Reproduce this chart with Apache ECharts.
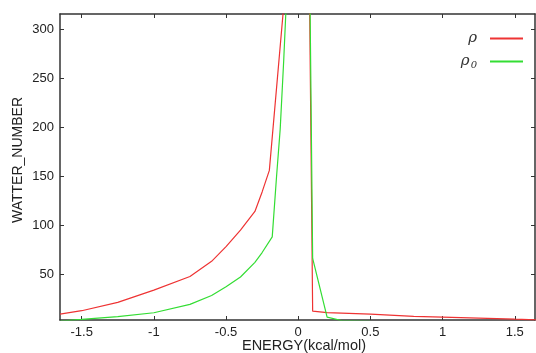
<!DOCTYPE html>
<html>
<head>
<meta charset="utf-8">
<script src="https://cdn.jsdelivr.net/npm/echarts@6/dist/echarts.min.js"></script>
<style>
html,body{margin:0;padding:0;background:#fff;}
#chart{width:536px;height:353px;}
</style>
</head>
<body>
<div id="chart"></div>
<script>
// ρ (red)
const energyRho = [-1.65, -1.5, -1.25, -1.0, -0.75, -0.6, -0.5, -0.4, -0.3, -0.25, -0.2, -0.1, -0.08, 0, 0.1, 0.2, 0.5, 0.8, 1.0, 1.25, 1.5, 1.65];
const rho       = [9, 12.5, 21, 33.5, 47.5, 63, 78, 95, 114, 134, 156, 325, 360, 1500, 12, 10.5, 9, 6.7, 6, 5, 3.8, 3.2];
// ρ0 (green)
const energyRho0 = [-1.65, -1.5, -1.25, -1.0, -0.75, -0.6, -0.5, -0.4, -0.3, -0.25, -0.18, -0.15, -0.125, -0.1, -0.085, 0, 0.1, 0.2, 0.3, 0.5, 1.0, 1.65];
const rho0       = [2, 3.6, 6.5, 10.4, 19, 28, 37, 47, 62, 72, 88, 150, 198, 270, 320, 1500, 66, 6, 2.5, 1.5, 1, 0.5];
const xTicks = [-1.5, -1, -0.5, 0, 0.5, 1, 1.5];
const yTicks = [50, 100, 150, 200, 250, 300];
const seriesNames = ['rho', 'rho0'];

const pair = (xs, ys) => xs.map((x, i) => [x, ys[i]]);
const chart = echarts.init(document.getElementById('chart'), null, {renderer: 'canvas'});
const axisCol = '#333';
const baseX = {
  type: 'value', min: -1.65, max: 1.64,
  axisLine: {show: true, onZero: false, lineStyle: {color: axisCol, width: 1.5}},
  axisTick: {show: true, inside: true, length: 4, customValues: xTicks, lineStyle: {color: axisCol}},
  splitLine: {show: false}
};
const baseY = {
  type: 'value', min: 3, max: 316,
  axisLine: {show: true, onZero: false, lineStyle: {color: axisCol, width: 1.5}},
  axisTick: {show: true, inside: true, length: 4, customValues: yTicks, lineStyle: {color: axisCol}},
  splitLine: {show: false}
};
chart.setOption({
  animation: false,
  backgroundColor: '#fff',
  grid: {left: 60, right: 1, top: 14, bottom: 33, containLabel: false, outerBoundsMode: 'none'},
  legend: {
    orient: 'vertical', right: 7, top: 26, itemWidth: 33, itemHeight: 14, itemGap: 8,
    align: 'right',
    data: seriesNames,
    itemStyle: {opacity: 0},
    formatter: function (n) { return n === 'rho' ? '{r|ρ}' : '{r|ρ}{s|0}'; },
    textStyle: {
      padding: [0, 8, 0, 0],
      rich: {
        r: {fontFamily: 'DejaVu Serif', fontStyle: 'italic', fontSize: 15, color: '#333'},
        s: {fontFamily: 'DejaVu Serif', fontStyle: 'italic', fontSize: 10, color: '#333', padding: [8, 0, 0, 1]}
      }
    }
  },
  xAxis: [
    Object.assign({}, baseX, {
      position: 'bottom',
      name: 'ENERGY(kcal/mol)', nameLocation: 'middle', nameGap: 18, nameMoveOverlap: false,
      nameTextStyle: {fontFamily: 'Liberation Sans', fontSize: 14.5, color: '#222', padding: [0, 0, 0, 13]},
      axisLabel: {show: true, customValues: xTicks, margin: 6, fontFamily: 'Liberation Sans', fontSize: 13, color: '#222'}
    }),
    Object.assign({}, baseX, {position: 'top', axisLabel: {show: false}})
  ],
  yAxis: [
    Object.assign({}, baseY, {
      position: 'left',
      name: 'WATTER_NUMBER', nameLocation: 'middle', nameGap: 35, nameRotate: 90, nameMoveOverlap: false,
      nameTextStyle: {fontFamily: 'Liberation Sans', fontSize: 14, color: '#222', padding: [0, 0, 0, 14]},
      axisLabel: {show: true, customValues: yTicks, margin: 6, fontFamily: 'Liberation Sans', fontSize: 13, color: '#222'}
    }),
    Object.assign({}, baseY, {position: 'right', axisLabel: {show: false}})
  ],
  series: [
    {name: 'rho', type: 'line', data: pair(energyRho, rho), showSymbol: false, symbol: 'none', clip: true,
     lineStyle: {color: '#ee3333', width: 1.2}, itemStyle: {color: '#ee3333'}},
    {name: 'rho0', type: 'line', data: pair(energyRho0, rho0), showSymbol: false, symbol: 'none', clip: true,
     lineStyle: {color: '#33dd33', width: 1.2}, itemStyle: {color: '#33dd33'}}
  ]
});
</script>
</body>
</html>
